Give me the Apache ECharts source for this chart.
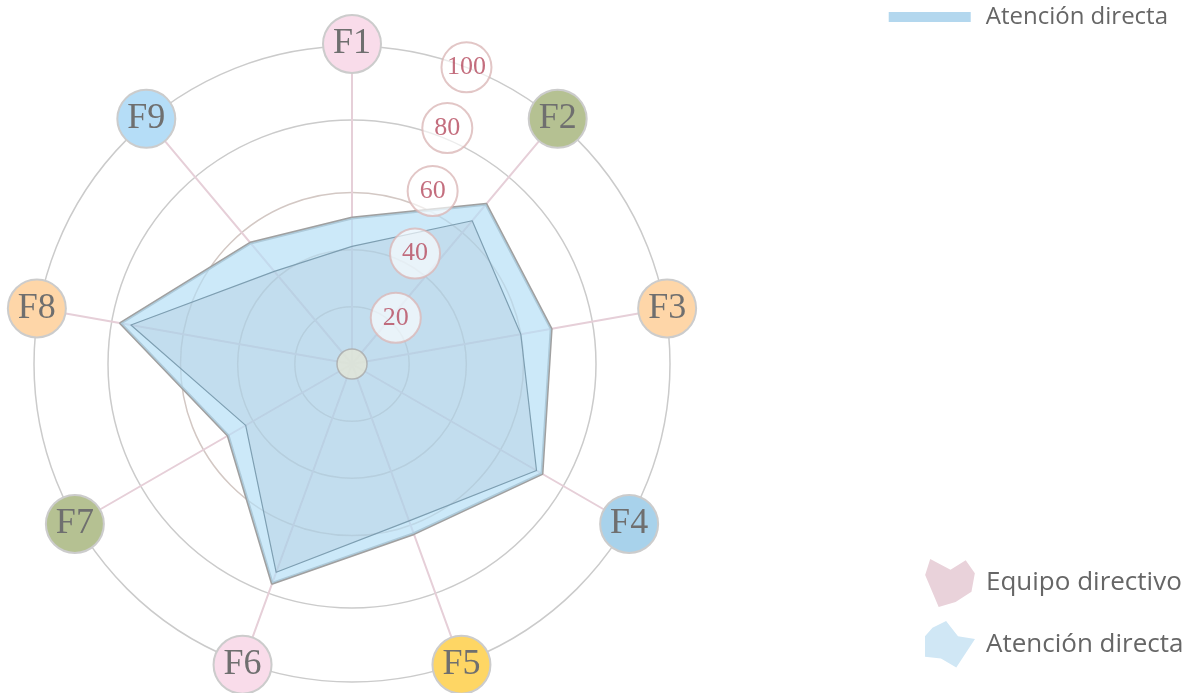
<!DOCTYPE html>
<html>
<head>
<meta charset="utf-8">
<script src="https://cdn.jsdelivr.net/npm/echarts@6/dist/echarts.min.js"></script>
<style>html,body{margin:0;padding:0;background:#fff;}</style>
</head>
<body>
<div id="main" style="width:1203px;height:693px;"></div>
<script>
// datos
var factores = ['F1', 'F2', 'F3', 'F4', 'F5', 'F6', 'F7', 'F8', 'F9'];
var atencionDirecta = [45.9, 65.6, 63.6, 69.0, 56.8, 73.4, 45.0, 73.9, 49.7];
var equipoDirectivo = [37.0, 58.8, 53.9, 67.0, 52.5, 69.7, 38.6, 70.6, 38.0];
var ticks = [20, 40, 60, 80, 100];

var centro = [352, 364];
var colFactor = ['#f9dcea', '#b5c192', '#fed6a8', '#a8d2eb', '#fed664', '#f9dcea', '#b5c192', '#fed6a8', '#b5ddf7'];
var angBurbuja = [43.5, 29.7, 25, 22, 21.1];

// el radar de echarts gira en sentido antihorario: F1, F9, F8 ... F2
var orden = [0, 8, 7, 6, 5, 4, 3, 2, 1];
function reordenar(arr) { return orden.map(function (i) { return arr[i]; }); }

var rich = {};
colFactor.forEach(function (c, i) {
	rich['c' + i] = {
		backgroundColor: c, borderColor: '#cccccc', borderWidth: 2, borderRadius: 30,
		width: 56, height: 56, lineHeight: 56, align: 'center',
		fontFamily: 'Liberation Serif', fontSize: 36, color: '#6f6f6f'
	};
});

function indicadores(max) {
	return reordenar(factores).map(function (f) { return { name: f, min: 0, max: max }; });
}

var myChart = echarts.init(document.getElementById('main'));

var option = {
	animation: false,
	legend: [{
		top: 0, right: 30,
		itemWidth: 82, itemHeight: 10, itemGap: 10,
		textStyle: { fontFamily: 'Open Sans', fontSize: 24, color: '#666', padding: [0, 0, 0, 10] },
		data: [{ name: 'Atención directa', icon: 'rect', itemStyle: { color: '#b3d7ee' } }]
	}, {
		orient: 'vertical', left: 920, top: 554,
		itemWidth: 50, itemHeight: 48, itemGap: 14,
		textStyle: { fontFamily: 'Open Sans', fontSize: 26, color: '#666', padding: [0, 0, 0, 6] },
		data: [
			{ name: 'Equipo directivo', icon: 'path://M140,68 L200,100 L245,72 L272,110 L262,165 L215,195 L165,210 L125,115 Z', itemStyle: { color: '#e9d2da' } },
			{ name: 'Atención directa', icon: 'path://M180,275 L215,320 L265,328 L210,412 L165,385 L118,380 L118,320 L140,295 Z', itemStyle: { color: '#d0e7f5' } }
		]
	}],
	radar: [{
		center: centro, radius: 318, shape: 'circle', splitNumber: 1,
		indicator: indicadores(100),
		nameGap: 2,
		axisName: {
			align: 'center', verticalAlign: 'middle',
			formatter: function (n) { return '{c' + factores.indexOf(n) + '|' + n + '}'; },
			rich: rich
		},
		axisLine: { lineStyle: { color: '#e6cfd8', width: 2 } },
		splitLine: { lineStyle: { color: '#cbcbcb', width: 1.5 } },
		splitArea: { show: false },
		axisTick: { show: false }, axisLabel: { show: false }
	}, {
		center: centro, radius: 244, shape: 'circle', splitNumber: 1,
		indicator: indicadores(80),
		axisName: { show: false }, axisLine: { show: false },
		splitLine: { lineStyle: { color: '#cbcbcb', width: 1.5 } },
		splitArea: { show: false }
	}, {
		center: centro, radius: 171.5, shape: 'circle', splitNumber: 3,
		indicator: indicadores(60),
		axisName: { show: false }, axisLine: { show: false },
		splitLine: { lineStyle: { color: '#d3c8c4', width: 1.5 } },
		splitArea: { show: false }
	}],
	polar: { center: centro, radius: 318 },
	angleAxis: { type: 'value', min: 0, max: 360, startAngle: 90, clockwise: true, show: false },
	radiusAxis: { type: 'value', min: 0, max: 100, show: false },
	series: [{
		type: 'radar', radarIndex: 0, symbol: 'none',
		data: [{
			name: 'Atención directa', value: reordenar(atencionDirecta),
			itemStyle: { color: '#b3d7ee' },
			lineStyle: { color: '#a0a0a0', width: 3 },
			areaStyle: { color: 'rgba(180,222,246,0.68)', opacity: 1 }
		}, {
			name: 'Equipo directivo', value: reordenar(equipoDirectivo),
			itemStyle: { color: '#e9d2da' },
			lineStyle: { color: '#7d9fb2', width: 1.2 },
			areaStyle: { color: 'rgba(140,160,180,0.16)', opacity: 1 }
		}]
	}, {
		type: 'scatter', coordinateSystem: 'polar', silent: true, z: 5,
		data: [[0, 0]], symbolSize: 30,
		itemStyle: { color: '#e4e6d6', borderColor: '#a9a9a9', borderWidth: 1.5 }
	}, {
		type: 'scatter', coordinateSystem: 'polar', silent: true, z: 5,
		data: ticks.map(function (t, i) { return [t, angBurbuja[i]]; }),
		symbolSize: 50,
		itemStyle: { color: 'rgba(255,255,255,0.8)', borderColor: '#dbb8b8', borderWidth: 2 },
		label: {
			show: true, position: 'inside',
			formatter: function (p) { return p.value[0]; },
			fontFamily: 'Liberation Serif', fontSize: 26, color: '#b54a5e'
		}
	}]
};

myChart.setOption(option);
</script>
</body>
</html>
